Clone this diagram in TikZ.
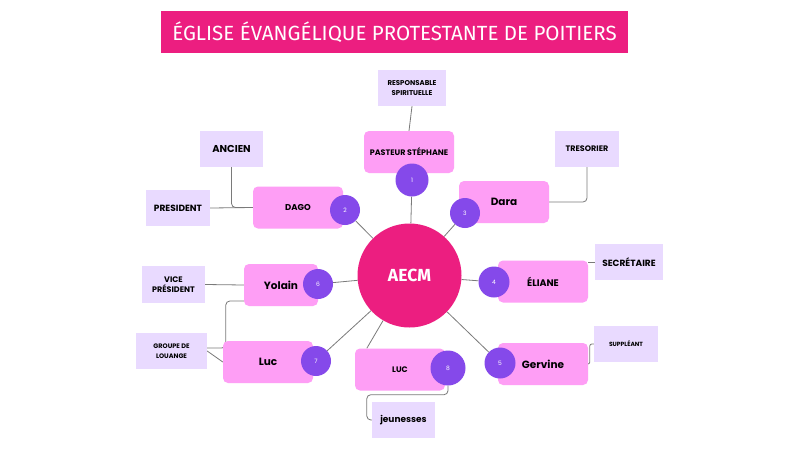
\documentclass[tikz,border=0pt]{standalone}
\usepackage{fontspec}
\setmainfont{Poppins}
\newfontfamily\bannerfont{Fira Sans}
\usepackage{xcolor}
\usepackage{tikz}
\usetikzlibrary{positioning, backgrounds, calc}
\definecolor{churchpink}{HTML}{EC1E80}
\definecolor{boxpink}{HTML}{FE9EF5}
\definecolor{dotpurple}{HTML}{8549EA}
\definecolor{rolelilac}{HTML}{E9DAFF}
\definecolor{linkgray}{HTML}{7A7A7A}
\tikzstyle{banner} = [rectangle, fill=churchpink, text=white, minimum width=467pt, minimum height=42pt,
  inner sep=0pt, font=\bannerfont\fontsize{20.5}{22}\selectfont]
\tikzstyle{hub} = [circle, fill=churchpink, text=white, minimum size=104pt, inner sep=0pt,
  font=\bannerfont\bfseries\fontsize{17.5}{19}\selectfont]
\tikzstyle{namebox} = [rectangle, rounded corners=5pt, fill=boxpink, minimum width=90pt, minimum height=42pt,
  inner sep=0pt, text centered, font=\bfseries\fontsize{10.5}{12}\selectfont]
\tikzstyle{rolebox} = [rectangle, fill=rolelilac, minimum width=64pt, minimum height=36pt, inner sep=0pt,
  align=center, font=\bfseries\fontsize{8.5}{10}\selectfont]
\tikzstyle{numdot} = [circle, fill=dotpurple, text=white, minimum size=30pt, inner sep=0pt,
  font=\fontsize{6}{7}\selectfont]
\tikzstyle{link} = [draw=linkgray, line width=0.8pt]

\begin{document}
\begin{tikzpicture}[x=1pt, y=-1pt]
  \useasboundingbox (0,0) rectangle (800,450);

  \node (title) [banner] at (394.5,32) {ÉGLISE ÉVANGÉLIQUE PROTESTANTE DE POITIERS};
  \node (aecm) [hub] at (409.5,275.5) {AECM};

  \node (pasteur) [namebox, font=\bfseries\fontsize{8}{10}\selectfont] at (409,152) {PASTEUR STÉPHANE};
  \node (dago) [namebox, font=\bfseries\fontsize{8.5}{10}\selectfont] at (298,207.5) {DAGO};
  \node (dara) [namebox] at (504,202) {Dara};
  \node (eliane) [namebox, font=\bfseries\fontsize{9.5}{12}\selectfont] at (543,281.5) {ÉLIANE};
  \node (gervine) [namebox] at (543,364) {Gervine};
  \node (yolain) [namebox, minimum width=74pt] at (281,285) {Yolain};
  \node (luc) [namebox] at (268,362) {Luc};
  \node (lucj) [namebox, font=\bfseries\fontsize{8}{10}\selectfont] at (400,369.5) {LUC};

  \node (n1) [numdot, minimum size=33pt] at (412,180) {1};
  \node (n2) [numdot] at (345,210) {2};
  \node (n3) [numdot] at (465,213) {3};
  \node (n4) [numdot, minimum size=31pt] at (494,282) {4};
  \node (n5) [numdot, minimum size=31pt] at (500,363) {5};
  \node (n6) [numdot] at (318,284) {6};
  \node (n7) [numdot] at (316,361) {7};
  \node (n8) [numdot, minimum size=35pt] at (448,368) {8};

  \node (spirit) [rolebox, minimum width=68pt, font=\bfseries\fontsize{7}{9.5}\selectfont] at (412,88) {RESPONSABLE\\SPIRITUELLE};
  \node (ancien) [rolebox, minimum width=63pt, font=\bfseries\fontsize{10}{12}\selectfont] at (231.5,149) {ANCIEN};
  \node (president) [rolebox, font=\bfseries\fontsize{9}{11}\selectfont] at (178,208) {PRESIDENT};
  \node (tresorier) [rolebox, font=\bfseries\fontsize{8}{10}\selectfont] at (587,149) {TRESORIER};
  \node (secretaire) [rolebox, minimum width=68pt, font=\bfseries\fontsize{9}{11}\selectfont] at (629,262) {SECRÉTAIRE};
  \node (suppleant) [rolebox, font=\bfseries\fontsize{6}{7}\selectfont] at (626,344) {SUPPLÉANT};
  \node (vicepres) [rolebox, minimum width=63pt, minimum height=37pt, font=\bfseries\fontsize{8}{10.5}\selectfont] at (173.5,284.5) {VICE\\PRÉSIDENT};
  \node (louange) [rolebox, minimum width=71pt, font=\bfseries\fontsize{6.5}{9.5}\selectfont] at (171.5,351) {GROUPE DE\\LOUANGE};
  \node (jeunesses) [rolebox, minimum width=63pt, font=\bfseries\fontsize{9}{11}\selectfont] at (403.5,420) {jeunesses};

  \begin{scope}[on background layer]
    \fill[white] (0,0) rectangle (800,450);
    \draw[link] (aecm) -- (n1);
    \draw[link] (aecm) -- (n2);
    \draw[link] (aecm) -- (n3);
    \draw[link] (aecm) -- (n4);
    \draw[link] (aecm) -- (n5);
    \draw[link] (aecm) -- (n6);
    \draw[link] (aecm) -- (n7);
    \draw[link] (aecm) -- ([xshift=12pt]lucj.north west);
    \draw[link] (pasteur.north) -- (spirit.south);
    \draw[link] (president.east) -- (dago.west);
    \draw[link, rounded corners=4pt] (ancien.south) |- (dago.west);
    \draw[link, rounded corners=4pt] (dara.east) -| (tresorier.south);
    \draw[link] (secretaire.west) -- (secretaire.west -| eliane.east);
    \draw[link, rounded corners=2pt] (suppleant.west) -- ++(-4,0) |- (gervine.east);
    \draw[link] (vicepres.east) -- (yolain.west);
    \draw[link, rounded corners=4pt] ([yshift=-16pt]yolain.west) -- ++(-18,0) |- ([yshift=3pt]louange.east);
    \draw[link] (louange.east) -- (luc.west);
    \draw[link, rounded corners=4pt] (n8.south) -- ++(0,9) -| ([xshift=-5pt]jeunesses.west) -- (jeunesses.west);
  \end{scope}
\end{tikzpicture}
\end{document}
